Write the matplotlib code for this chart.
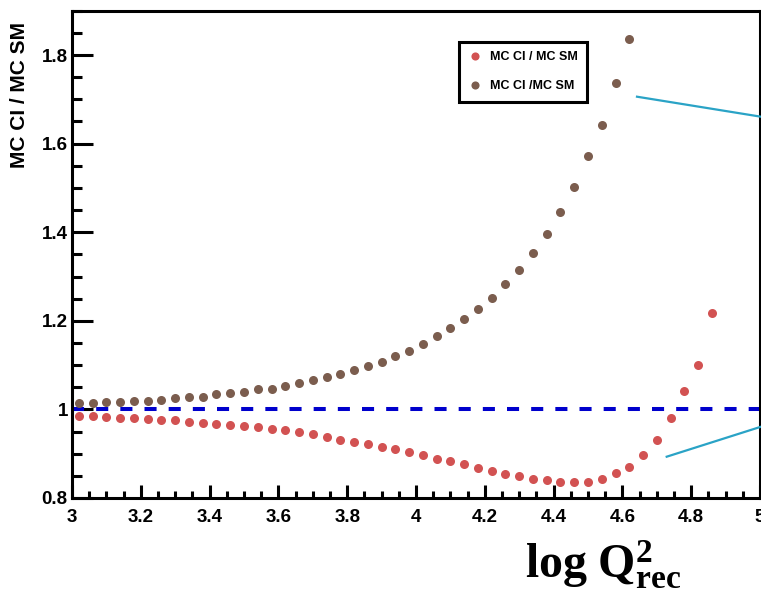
import matplotlib

matplotlib.use("Agg")
import matplotlib.pyplot as plt
from matplotlib.lines import Line2D
from matplotlib.ticker import MultipleLocator


# bin centres (log Q^2_rec) and ratio values
X_CI_A = [3.02, 3.06, 3.10, 3.14, 3.18, 3.22, 3.26, 3.30, 3.34, 3.38,
          3.42, 3.46, 3.50, 3.54, 3.58, 3.62, 3.66, 3.70, 3.74, 3.78,
          3.82, 3.86, 3.90, 3.94, 3.98, 4.02, 4.06, 4.10, 4.14, 4.18,
          4.22, 4.26, 4.30, 4.34, 4.38, 4.42, 4.46, 4.50, 4.54, 4.58,
          4.62, 4.66, 4.70, 4.74, 4.78, 4.82, 4.86]
RATIO_CI_A = [0.986, 0.985, 0.983, 0.981, 0.980, 0.979, 0.977, 0.976, 0.972, 0.970,
              0.967, 0.965, 0.962, 0.960, 0.956, 0.953, 0.948, 0.944, 0.938, 0.932,
              0.927, 0.923, 0.916, 0.910, 0.904, 0.897, 0.889, 0.883, 0.876, 0.868,
              0.861, 0.855, 0.849, 0.843, 0.840, 0.835, 0.835, 0.837, 0.843, 0.856,
              0.869, 0.897, 0.931, 0.980, 1.041, 1.101, 1.217]

X_CI_B = [3.02, 3.06, 3.10, 3.14, 3.18, 3.22, 3.26, 3.30, 3.34, 3.38,
          3.42, 3.46, 3.50, 3.54, 3.58, 3.62, 3.66, 3.70, 3.74, 3.78,
          3.82, 3.86, 3.90, 3.94, 3.98, 4.02, 4.06, 4.10, 4.14, 4.18,
          4.22, 4.26, 4.30, 4.34, 4.38, 4.42, 4.46, 4.50, 4.54, 4.58,
          4.62]
RATIO_CI_B = [1.014, 1.015, 1.017, 1.016, 1.019, 1.019, 1.021, 1.025, 1.027, 1.029,
              1.034, 1.038, 1.040, 1.045, 1.047, 1.053, 1.059, 1.066, 1.073, 1.080,
              1.089, 1.098, 1.108, 1.120, 1.131, 1.148, 1.166, 1.183, 1.203, 1.226,
              1.251, 1.282, 1.314, 1.352, 1.395, 1.446, 1.502, 1.572, 1.643, 1.737,
              1.837]

LABEL_A = "MC CI / MC SM"
LABEL_B = "MC CI /MC SM"
REFERENCE_LEVEL = 1.0

X_TICKS = [3, 3.2, 3.4, 3.6, 3.8, 4, 4.2, 4.4, 4.6, 4.8, 5]
X_TICK_LABELS = ["3", "3.2", "3.4", "3.6", "3.8", "4", "4.2", "4.4", "4.6", "4.8", "5"]
Y_TICKS = [0.8, 1.0, 1.2, 1.4, 1.6, 1.8]
Y_TICK_LABELS = ["0.8", "1", "1.2", "1.4", "1.6", "1.8"]

COLOR_A = "#d25252"
COLOR_B = "#7b5d4e"
COLOR_REF = "#0000cc"
COLOR_NOTE = "#2aa3c6"

SANS = ["Liberation Sans", "DejaVu Sans"]

W_PX, H_PX = 761, 590


def px(x, y):
    return x / W_PX, 1 - y / H_PX


def main():
    plt.rcParams["mathtext.fontset"] = "custom"
    plt.rcParams["mathtext.bf"] = "Liberation Serif:bold"
    plt.rcParams["mathtext.rm"] = "Liberation Serif"
    plt.rcParams["mathtext.it"] = "Liberation Serif:italic"

    fig = plt.figure(figsize=(W_PX / 100, H_PX / 100), dpi=100)
    left, bottom = px(72, 498)
    ax = fig.add_axes([left, bottom, 688 / W_PX, (498 - 10.7) / H_PX])

    ax.plot(X_CI_A, RATIO_CI_A, "o", color=COLOR_A, ms=6.5, mec="none",
            label=LABEL_A, zorder=3)
    ax.plot(X_CI_B, RATIO_CI_B, "o", color=COLOR_B, ms=6.5, mec="none",
            label=LABEL_B, zorder=3)
    ax.axhline(REFERENCE_LEVEL, color=COLOR_REF, lw=2.9, ls=(0, (3, 3)), zorder=2)

    ax.set_xlim(3, 5)
    ax.set_ylim(0.8, 1.9)

    ax.set_xticks(X_TICKS)
    ax.set_xticklabels(X_TICK_LABELS)
    ax.set_yticks(Y_TICKS)
    ax.set_yticklabels(Y_TICK_LABELS)
    ax.xaxis.set_minor_locator(MultipleLocator(0.05))
    ax.yaxis.set_minor_locator(MultipleLocator(0.05))

    for spine in ax.spines.values():
        spine.set_linewidth(2.2)

    ax.tick_params(axis="both", which="both", direction="in", width=2.2,
                   top=False, right=False)
    ax.tick_params(axis="y", which="major", length=15, pad=3)
    ax.tick_params(axis="y", which="minor", length=7.5)
    ax.tick_params(axis="x", which="major", length=9.5, pad=8)
    ax.tick_params(axis="x", which="minor", length=5)

    for lab in ax.get_xticklabels() + ax.get_yticklabels():
        lab.set_family(SANS)
        lab.set_fontweight("bold")
        lab.set_fontsize(13.5)

    legend = ax.legend(
        loc="upper left",
        bbox_to_anchor=((459 - 72) / 688, (498 - 42) / 487.3),
        frameon=True,
        fancybox=False,
        edgecolor="black",
        prop={"family": SANS, "weight": "bold", "size": 9},
        markerscale=0.9,
        handlelength=1.1,
        handletextpad=0.6,
        borderpad=0.75,
        labelspacing=1.35,
        borderaxespad=0,
    )
    legend.get_frame().set_linewidth(2.2)
    legend.get_frame().set_alpha(1)

    fig.text(*px(20, 22), "MC CI / MC SM", rotation=90, ha="center", va="top",
             family=SANS, fontweight="bold", fontsize=15)

    fig.text(*px(525, 578), r"$\mathbf{log\ Q^{2}_{rec}}$",
             ha="left", va="baseline", fontsize=34.5)

    # cyan pointer lines running off the right edge
    for (x0, y0), (x1, y1) in [((637, 96.7), (790, 121.4)),
                               ((666.7, 456.7), (790, 417.5))]:
        xa, ya = px(x0, y0)
        xb, yb = px(x1, y1)
        fig.add_artist(Line2D([xa, xb], [ya, yb], transform=fig.transFigure,
                              color=COLOR_NOTE, lw=1.6))

    fig.savefig("out.png", dpi=100)
    plt.close(fig)


if __name__ == "__main__":
    main()
